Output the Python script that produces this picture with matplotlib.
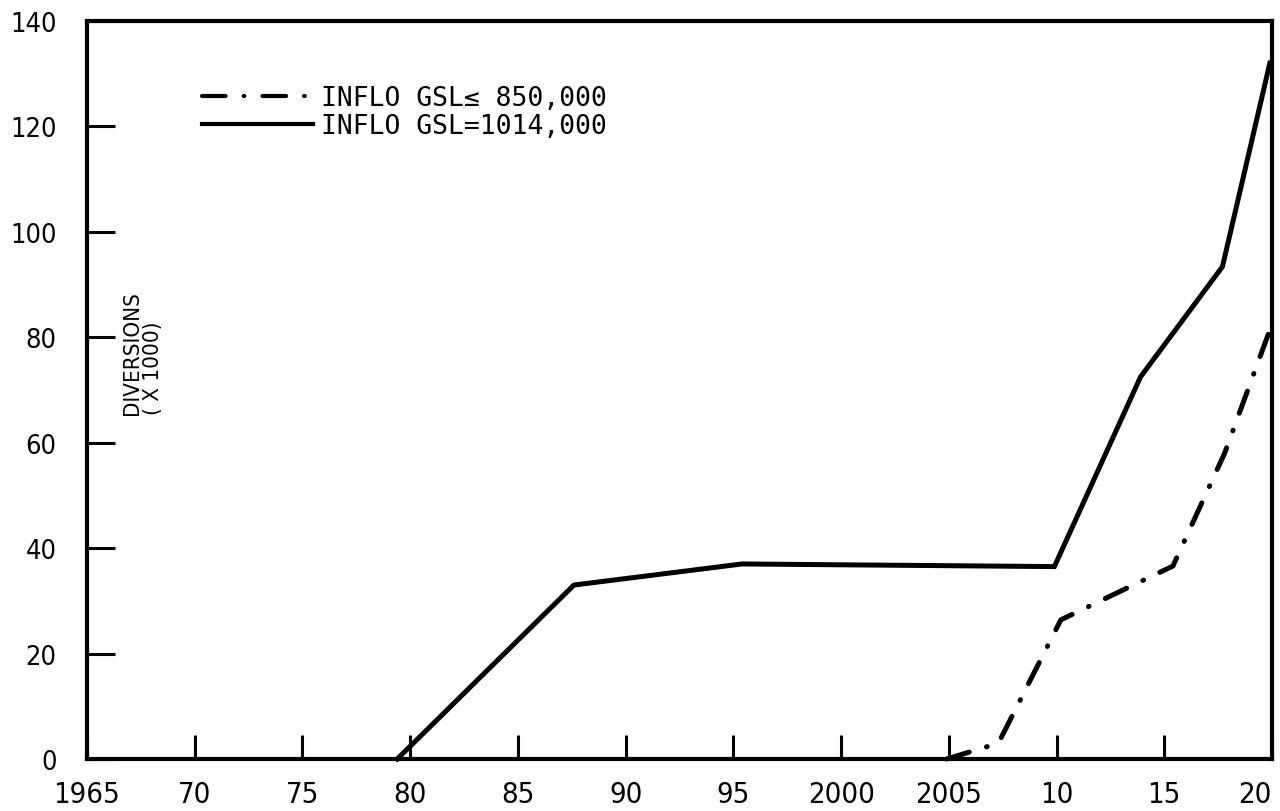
import matplotlib
matplotlib.use("Agg")
import matplotlib.pyplot as plt
from matplotlib.lines import Line2D
from matplotlib.transforms import ScaledTranslation

plt.rcParams['font.family'] = ['DejaVu Sans']
plt.rcParams['font.stretch'] = 'condensed'
plt.rcParams['lines.scale_dashes'] = False

# Data
solid_years = [1979.4, 1987.6, 1995.4, 2009.9, 2013.9, 2017.7, 2019.9]
solid_vals = [0, 33, 37, 36.5, 72.5, 93.4, 132]
dd_years = [2004.9, 2007.3, 2010.2, 2015.4, 2017.8, 2020.0]
dd_vals = [0, 3, 26.4, 36.6, 58, 82.5]

x_ticks = [1965, 1970, 1975, 1980, 1985, 1990, 1995, 2000, 2005, 2010, 2015, 2020]
x_labels = ['1965', '70', '75', '80', '85', '90', '95', '2000', '2005', '10', '15', '20']
y_ticks = [0, 20, 40, 60, 80, 100, 120, 140]
y_labels = ['0', '20', '40', '60', '80', '100', '120', '140']

label_dd = 'INFLO GSL\u2264 850,000'
label_solid = 'INFLO GSL=1014,000'
ylabel = 'DIVERSIONS\n( X 1000)'

fig = plt.figure(figsize=(12.8, 8.12), dpi=100)
ax = fig.add_axes([87/1280, 1-760/812, (1272-87)/1280, (760-22)/812])

ax.plot(solid_years, solid_vals, color='black', lw=3.6, solid_joinstyle='miter',
        label=label_solid, clip_on=False)
dd_line, = ax.plot(dd_years, dd_vals, color='black', lw=3.6, dash_capstyle='round',
                   label=label_dd, clip_on=False)
dd_line.set_dashes([17, 13, 0.5, 13])

ax.set_xlim(1965, 2020)
ax.set_ylim(0, 140)

ax.set_xticks(x_ticks)
ax.set_xticklabels(x_labels, fontsize=21)
ax.set_yticks(y_ticks)
ax.set_yticklabels(y_labels, fontsize=19.5)
shift = ScaledTranslation(-6/100, 0, fig.dpi_scale_trans)
xt = ax.get_xticklabels()
for t in xt:
    t.set_transform(t.get_transform() + shift)
xt[-1].set_horizontalalignment('right')

ax.tick_params(axis='x', direction='in', length=17, width=2.2, pad=15)
ax.tick_params(axis='y', direction='in', length=20, width=2.2, pad=22)

for s in ax.spines.values():
    s.set_linewidth(3.0)
    s.set_color('black')

ax.text(0.047, 0.467, ylabel, transform=ax.transAxes, rotation=90,
        rotation_mode='anchor', ha='left', va='center', fontsize=16,
        multialignment='left', linespacing=1.05)

h_dd = Line2D([], [], color='black', lw=3.0, dash_capstyle='round')
h_dd.set_dashes([17, 13, 0.5, 13])
h_solid = Line2D([], [], color='black', lw=3.0)
leg = ax.legend([h_dd, h_solid], [label_dd, label_solid], loc='upper left',
                bbox_to_anchor=((202-87)/1185, 1 - (86-22)/738),
                frameon=False, handlelength=4.2,
                handletextpad=0.3, labelspacing=0.08, borderaxespad=0,
                borderpad=0, prop={'family': 'DejaVu Sans Mono', 'size': 19})

fig.savefig('out.png', dpi=100, facecolor='white')
